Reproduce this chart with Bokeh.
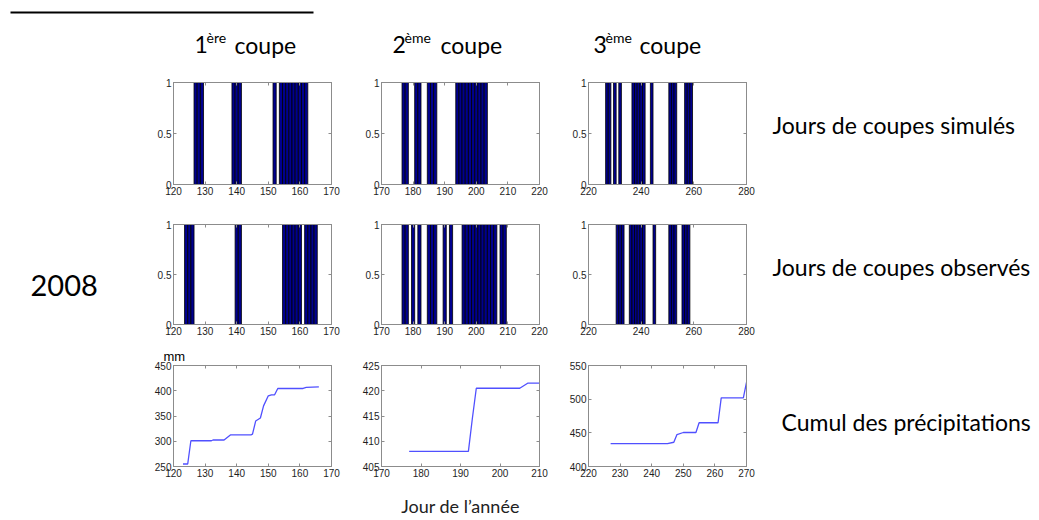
from bokeh.plotting import figure
from bokeh.layouts import row, column
from bokeh.models import Range1d, FixedTicker, LinearAxis
from bokeh.core.properties import value
from bokeh.embed import file_html
from bokeh.resources import INLINE

# ---------------- data ----------------
col_titles_num = ["1", "2", "3"]
col_titles_sup = ["ère", "ème", "ème"]
col_titles_word = ["coupe", "coupe", "coupe"]
row_labels = ["Jours de coupes simulés", "Jours de coupes observés", "Cumul des précipitations"]
year_label = "2008"
x_label = "Jour de l’année"
unit_label = "mm"

# days with a (simulated) cut
sim_c1 = [127, 128, 129, 139, 140, 141, 152, 154, 155, 156, 157, 158, 159, 160, 161, 162]
sim_c2 = [177, 178, 181, 182, 185, 186, 187, 194, 195, 196, 197, 198, 199, 200, 201, 202, 203]
sim_c3 = [227, 228, 230, 232, 237, 238, 239, 240, 241, 244, 251, 252, 253, 257, 258, 259]
# days with an (observed) cut
obs_c1 = [124, 125, 126, 140, 141, 155, 156, 157, 158, 159, 160, 162, 163, 164, 165]
obs_c2 = [177, 178, 180, 182, 185, 186, 187, 190, 192, 196, 197, 198, 199, 200, 201,
          202, 203, 204, 205, 206, 208, 209]
obs_c3 = [231, 232, 233, 236, 237, 238, 239, 240, 241, 245, 251, 252, 253, 256, 257, 258]

# cumulative rainfall (mm)
rain1_day = [123, 124.5, 125.5, 132, 132.5, 136, 138, 144.5, 145, 146, 147.5, 148.5, 150, 151, 152, 153, 161, 162, 166]
rain1_mm = [255, 255, 301, 301, 302.5, 302.5, 312.5, 312.5, 314, 340, 346, 370, 390, 392, 392, 404.5, 404.5, 406.5, 407.5]
rain2_day = [177, 192, 193, 194, 205, 207, 210]
rain2_mm = [408, 408, 414.5, 420.5, 420.5, 421.5, 421.5]
rain3_day = [227, 245, 247, 248, 250, 254, 255, 261, 262, 269, 270]
rain3_mm = [434, 434, 436, 447.5, 450.5, 450.5, 465, 465, 502, 502, 525]

# axes
x_ranges = [(120, 170), (170, 220), (220, 280)]
x_ticks = [[120, 130, 140, 150, 160, 170], [170, 180, 190, 200, 210, 220], [220, 240, 260, 280]]
x_ranges_rain = [(120, 170), (170, 210), (220, 270)]
x_ticks_rain = [[120, 130, 140, 150, 160, 170], [170, 180, 190, 200, 210], [220, 230, 240, 250, 260, 270]]
y_ticks_bar = [0, 0.5, 1]
y_ranges_rain = [(250, 450), (405, 425), (400, 550)]
y_ticks_rain = [[250, 300, 350, 400, 450], [405, 410, 415, 420, 425], [400, 450, 500, 550]]

# ---------------- style ----------------
GREY = "#8c8c8c"
BAR_FILL = "#00008F"
LINE_COL = "#5050ff"
TXT_FONT = "Lato"
TICK_FONT = "Liberation Sans"


def style_axis(ax, ticks, labels=True):
    ax.ticker = FixedTicker(ticks=ticks)
    ax.axis_line_color = GREY
    ax.major_tick_line_color = GREY
    ax.minor_tick_line_color = None
    ax.major_tick_in = 3
    ax.major_tick_out = 0
    ax.major_label_text_font = TICK_FONT
    if labels:
        ax.major_label_text_font_size = "10px"
        ax.major_label_text_color = "#1e1e1e"
        ax.major_label_standoff = 2
    else:
        ax.major_label_text_font_size = "1px"
        ax.major_label_text_color = None
        ax.major_label_standoff = 0


def panel(xr, xt, yr, yt, fh, left_b, top_b, bot_b):
    p = figure(frame_width=158, frame_height=fh,
               x_range=Range1d(*xr), y_range=Range1d(*yr),
               min_border_left=left_b, min_border_right=25,
               min_border_top=top_b, min_border_bottom=bot_b,
               toolbar_location=None, tools="", output_backend="svg")
    p.grid.visible = False
    p.outline_line_color = GREY
    p.border_fill_color = "white"
    bottom_axis = p.below[0]
    left_axis = p.left[0]
    style_axis(bottom_axis, xt)
    style_axis(left_axis, yt)
    top = LinearAxis()
    style_axis(top, xt, labels=False)
    p.add_layout(top, "above")
    right = LinearAxis()
    style_axis(right, yt, labels=False)
    p.add_layout(right, "right")
    return p, bottom_axis


lefts = [27, 25, 24]
rows_specs = [(102, 18, 20), (100, 20, 20), (101, 21, 50)]

bar_data = [[sim_c1, sim_c2, sim_c3], [obs_c1, obs_c2, obs_c3]]
grid_rows = []
for r in range(2):
    fh, tb, bb = rows_specs[r]
    figs = []
    for c in range(3):
        p, _ = panel(x_ranges[c], x_ticks[c], (0, 1), y_ticks_bar, fh, lefts[c], tb, bb)
        days = bar_data[r][c]
        p.vbar(x=days, width=1, bottom=0, top=[1] * len(days),
               fill_color=BAR_FILL, line_color="black", line_width=0.8)
        figs.append(p)
    grid_rows.append(row(*figs, spacing=0))

rain_days = [rain1_day, rain2_day, rain3_day]
rain_vals = [rain1_mm, rain2_mm, rain3_mm]
fh, tb, bb = rows_specs[2]
figs = []
for c in range(3):
    p, bax = panel(x_ranges_rain[c], x_ticks_rain[c], y_ranges_rain[c], y_ticks_rain[c], fh, lefts[c], tb, bb)
    p.line(rain_days[c], rain_vals[c], line_color=LINE_COL, line_width=1.3)
    if c == 0:
        p.title.text = unit_label
        p.title.align = "left"
        p.title.offset = -10
        p.title.standoff = 3
        p.title.text_font = TICK_FONT
        p.title.text_font_style = "normal"
        p.title.text_font_size = "13px"
        p.title.text_color = "black"
    if c == 1:
        bax.axis_label = x_label
        bax.axis_label_text_font = TXT_FONT
        bax.axis_label_text_font_style = "normal"
        bax.axis_label_text_font_size = "18px"
        bax.axis_label_text_color = "#222222"
        bax.axis_label_standoff = 15
    figs.append(p)
grid_rows.append(row(*figs, spacing=0))
grid = column(*grid_rows, spacing=0)


def canvas(w, h, x0, y0):
    p = figure(frame_width=w, frame_height=h, x_range=Range1d(x0, x0 + w), y_range=Range1d(y0 + h, y0),
               x_axis_type=None, y_axis_type=None, min_border=0,
               toolbar_location=None, tools="", output_backend="svg")
    p.grid.visible = False
    p.outline_line_color = None
    return p


# header (page coordinates)
head = canvas(1035, 64, 0, 0)
head.segment(x0=[10], y0=[12], x1=[313], y1=[12], line_color="black", line_width=2)
num_x = [194, 392, 593]
sup_x = [206, 404, 605]
word_x = [234, 440, 639]
head.text(x=num_x, y=[44] * 3, text=col_titles_num, text_font=value(TXT_FONT),
          text_font_size=value("23px"), text_baseline="middle", text_color="black")
head.text(x=sup_x, y=[37] * 3, text=col_titles_sup, text_font=value(TXT_FONT),
          text_font_size=value("14px"), text_baseline="middle", text_color="black")
head.text(x=word_x, y=[44] * 3, text=col_titles_word, text_font=value(TXT_FONT),
          text_font_size=value("23px"), text_baseline="middle", text_color="black")

# left side
left = canvas(146, 452, 0, 64)
left.text(x=[30], y=[285], text=[year_label], text_font=value(TXT_FONT),
          text_font_size=value("29px"), text_baseline="middle", text_color="black")

# right side
right = canvas(264, 452, 771, 64)
right.text(x=[772, 772, 781], y=[124, 266, 421], text=row_labels, text_font=value(TXT_FONT),
           text_font_size=value("23px"), text_baseline="middle", text_color="black")

layout = column(head, row(left, grid, right, spacing=0), spacing=0)

with open("out.html", "w") as f:
    f.write(file_html(layout, INLINE))
